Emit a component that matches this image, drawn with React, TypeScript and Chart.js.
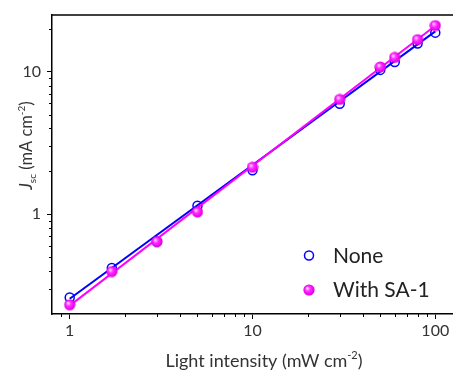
import React, { useEffect, useRef } from "react";
import { Chart, registerables } from "chart.js";

Chart.register(...registerables);

const intensity = [1, 1.7, 3, 5, 10, 30, 50, 60, 80, 100];
const jscNone = [0.261, 0.42, 0.645, 1.15, 2.04, 5.97, 10.3, 11.7, 15.8, 18.8];
const jscSA1 = [0.232, 0.397, 0.644, 1.04, 2.14, 6.4, 10.8, 12.6, 16.8, 21.1];
const fitX = [1, 100];
const fitNone = [0.256, 19.2];
const fitSA1 = [0.229, 21.0];
const xMajorTicks = [1, 10, 100];
const yMajorTicks = [1, 10];
const xMinorTicks = [0.9, 2, 3, 4, 5, 6, 7, 8, 9, 20, 30, 40, 50, 60, 70, 80, 90];
const yMinorTicks = [0.3, 0.4, 0.5, 0.6, 0.7, 0.8, 0.9, 2, 3, 4, 5, 6, 7, 8, 9, 20];
const legendLabels = ["None", "With SA-1"];

const FONT = "Lato, 'Open Sans', sans-serif";

function makeSphere(): HTMLCanvasElement {
  const s = 12;
  const c = document.createElement("canvas");
  c.width = s;
  c.height = s;
  const ctx = c.getContext("2d")!;
  const g = ctx.createRadialGradient(4.2, 4.2, 0.5, 6, 6, 6);
  g.addColorStop(0, "#ffd6ff");
  g.addColorStop(0.35, "#ff33ff");
  g.addColorStop(0.8, "#ee00ee");
  g.addColorStop(1, "#cc00cc");
  ctx.fillStyle = g;
  ctx.beginPath();
  ctx.arc(6, 6, 5.6, 0, Math.PI * 2);
  ctx.fill();
  return c;
}

export default function App() {
  const ref = useRef<HTMLCanvasElement | null>(null);
  useEffect(() => {
    const sphere = makeSphere();
    const pts = (xs: number[], ys: number[]) => xs.map((x, i) => ({ x, y: ys[i] }));

    const decor = {
      id: "decor",
      afterDraw(chart: any) {
        const ctx = chart.ctx as CanvasRenderingContext2D;
        const xs = chart.scales.x;
        const ys = chart.scales.y;
        const a = chart.chartArea;
        ctx.save();
        ctx.strokeStyle = "#000";
        ctx.lineWidth = 1.5;
        ctx.beginPath();
        ctx.moveTo(a.left, a.top);
        ctx.lineTo(a.right, a.top);
        ctx.stroke();
        ctx.lineWidth = 1;
        ctx.beginPath();
        xMinorTicks.forEach((v) => {
          const px = Math.round(xs.getPixelForValue(v)) + 0.5;
          ctx.moveTo(px, a.bottom);
          ctx.lineTo(px, a.bottom + 3);
        });
        yMinorTicks.forEach((v) => {
          const py = Math.round(ys.getPixelForValue(v)) + 0.5;
          ctx.moveTo(a.left, py);
          ctx.lineTo(a.left - 3, py);
        });
        ctx.stroke();

        // y title
        ctx.fillStyle = "#333";
        ctx.translate(32, 145.5);
        ctx.rotate(-Math.PI / 2);
        const parts: [string, string, number][] = [
          ["J", "italic 16.5px " + FONT, 0],
          ["sc", "10px " + FONT, 4],
          [" (mA cm", "16.5px " + FONT, 0],
          ["-2", "10px " + FONT, -7],
          [")", "16.5px " + FONT, 0],
        ];
        let total = 0;
        parts.forEach(([t, f]) => {
          ctx.font = f;
          total += ctx.measureText(t).width;
        });
        let cx = -total / 2;
        ctx.textBaseline = "alphabetic";
        parts.forEach(([t, f, dy]) => {
          ctx.font = f;
          ctx.fillText(t, cx, dy);
          cx += ctx.measureText(t).width;
        });
        ctx.setTransform(1, 0, 0, 1, 0, 0);

        // x title
        const xparts: [string, string, number][] = [
          ["Light intensity (mW cm", "18px " + FONT, 0],
          ["-2", "11px " + FONT, -8],
          [")", "18px " + FONT, 0],
        ];
        total = 0;
        xparts.forEach(([t, f]) => {
          ctx.font = f;
          total += ctx.measureText(t).width;
        });
        cx = 264 - total / 2;
        xparts.forEach(([t, f, dy]) => {
          ctx.font = f;
          ctx.fillText(t, cx, 367 + dy);
          cx += ctx.measureText(t).width;
        });

        // legend
        ctx.strokeStyle = "#0000ff";
        ctx.lineWidth = 1.5;
        ctx.beginPath();
        ctx.arc(309, 255.5, 4.5, 0, Math.PI * 2);
        ctx.stroke();
        ctx.drawImage(sphere, 303, 284);
        ctx.fillStyle = "#222";
        ctx.font = "21px " + FONT;
        ctx.fillText(legendLabels[0], 333, 262.5);
        ctx.fillText(legendLabels[1], 333, 296.5);
        ctx.restore();
      },
    };

    const chart = new Chart(ref.current!, {
      type: "scatter",
      data: {
        datasets: [
          {
            label: legendLabels[1],
            data: pts(intensity, jscSA1),
            pointStyle: sphere as any,
            pointRadius: 6,
            showLine: false,
          },
          {
            label: legendLabels[1] + " fit",
            data: pts(fitX, fitSA1),
            showLine: true,
            borderColor: "#ff00ff",
            borderWidth: 2,
            pointRadius: 0,
          },
          {
            label: legendLabels[0],
            data: pts(intensity, jscNone),
            pointStyle: "circle",
            pointRadius: 4.5,
            pointBorderWidth: 1.5,
            pointBorderColor: "#0000ff",
            pointBackgroundColor: "rgba(0,0,0,0)",
            showLine: false,
          },
          {
            label: legendLabels[0] + " fit",
            data: pts(fitX, fitNone),
            showLine: true,
            borderColor: "#0000ff",
            borderWidth: 2,
            pointRadius: 0,
          },
        ],
      },
      options: {
        animation: false,
        responsive: false,
        events: [],
        layout: { autoPadding: false, padding: { top: 15, right: 0, left: 0, bottom: 0 } },
        plugins: { legend: { display: false }, tooltip: { enabled: false } },
        scales: {
          x: {
            type: "logarithmic",
            min: 0.8,
            max: 125,
            afterFit(s: any) {
              s.height = 57;
              s.paddingLeft = 0;
              s.paddingRight = 0;
            },
            afterBuildTicks(s: any) {
              s.ticks = xMajorTicks.map((v) => ({ value: v, major: true }));
            },
            ticks: {
              autoSkip: false,
              maxRotation: 0,
              padding: 2,
              color: "#333",
              font: { family: FONT, size: 16 },
              callback: (v: any) => String(v),
            },
            grid: { display: true, drawOnChartArea: false, drawTicks: true, tickLength: 5, color: "#000", lineWidth: 1 },
            border: { display: true, color: "#000", width: 1.5 },
          },
          y: {
            type: "logarithmic",
            min: 0.2,
            max: 25,
            afterFit(s: any) {
              s.width = 52;
              s.paddingTop = 0;
              s.paddingBottom = 0;
            },
            afterBuildTicks(s: any) {
              s.ticks = yMajorTicks.map((v) => ({ value: v, major: true }));
            },
            ticks: {
              autoSkip: false,
              padding: 6,
              color: "#333",
              font: { family: FONT, size: 16 },
              callback: (v: any) => String(v),
            },
            grid: { display: true, drawOnChartArea: false, drawTicks: true, tickLength: 5, color: "#000", lineWidth: 1 },
            border: { display: true, color: "#000", width: 1.5 },
          },
        },
      },
      plugins: [decor],
    } as any);
    return () => chart.destroy();
  }, []);

  return (
    <div style={{ position: "fixed", left: 0, top: 0, width: 453, height: 371, background: "#fff" }}>
      <canvas ref={ref} width={453} height={371} style={{ display: "block" }} />
    </div>
  );
}
